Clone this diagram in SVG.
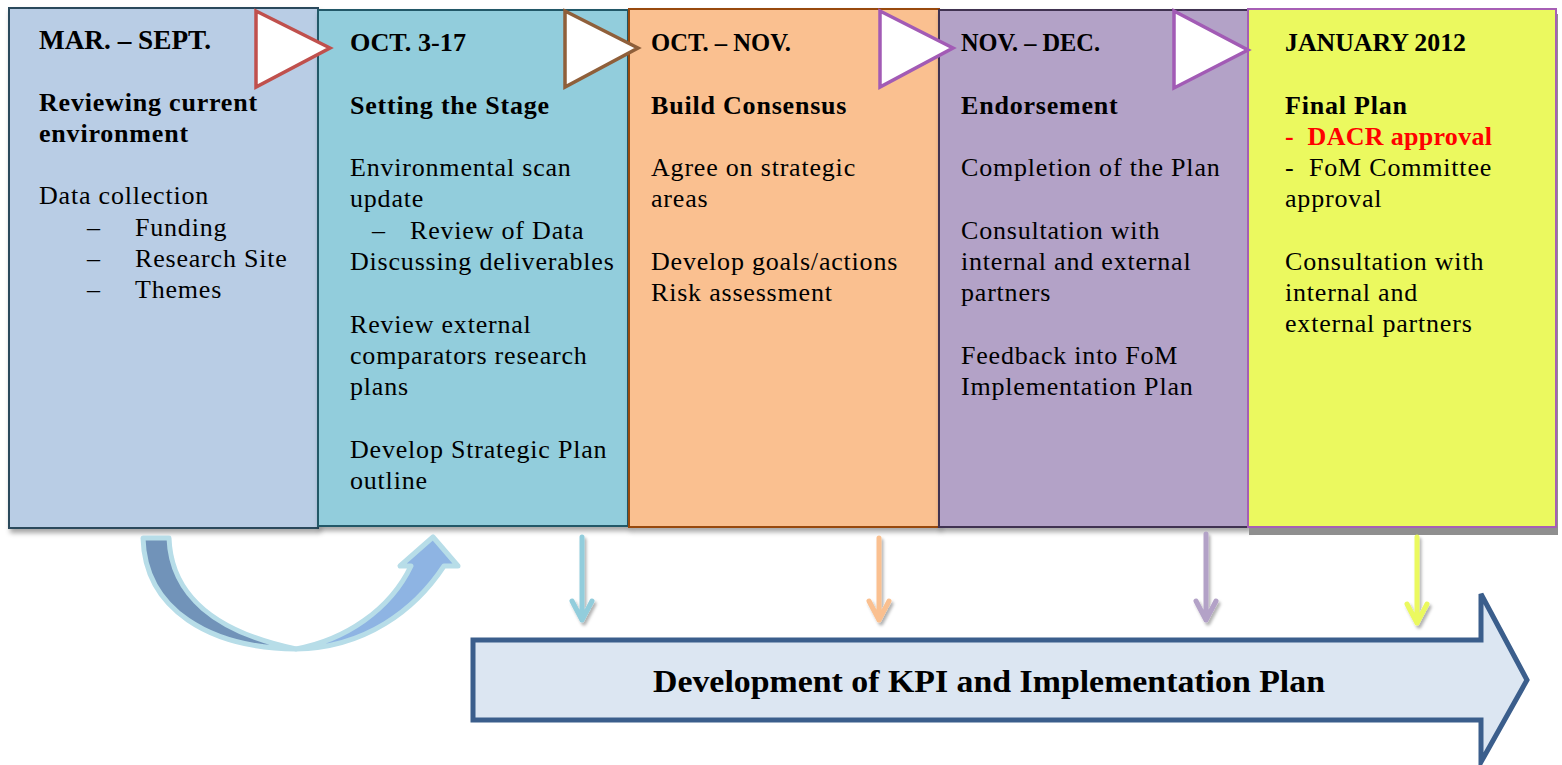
<svg xmlns="http://www.w3.org/2000/svg" width="1562" height="765" viewBox="0 0 1562 765">
<defs>
<filter id="sh" x="-10%" y="-10%" width="130%" height="130%">
<feDropShadow dx="2" dy="4" stdDeviation="2.5" flood-color="#000" flood-opacity="0.35"/>
</filter>
<filter id="ash" x="-50%" y="-10%" width="200%" height="130%">
<feDropShadow dx="2" dy="3" stdDeviation="1.5" flood-color="#000" flood-opacity="0.3"/>
</filter>
</defs>
<style>
text{font-family:"Liberation Serif","Times New Roman",serif;fill:#000;font-size:26px;letter-spacing:0.8px}
.b{font-weight:bold}
.h{font-weight:bold;font-size:26px;letter-spacing:0}
.tri{fill:#fff;stroke-width:3.5;stroke-linejoin:miter}
.dn{fill:none;stroke-width:5;stroke-linecap:round;stroke-linejoin:round}
</style>

<g id="box1">
<rect x="9" y="8" width="309" height="520" fill="#b9cde5" stroke="#2b4a5c" stroke-width="2" filter="url(#sh)"/>
<text x="39" y="49" class="h" style="font-size:27px" textLength="172" lengthAdjust="spacingAndGlyphs">MAR. – SEPT.</text>
<text x="39" y="111" class="b">Reviewing current</text>
<text x="39" y="142" class="b">environment</text>
<text x="39" y="204">Data collection</text>
<text x="87" y="236">–</text><text x="135" y="236">Funding</text>
<text x="87" y="267">–</text><text x="135" y="267">Research Site</text>
<text x="87" y="298">–</text><text x="135" y="298">Themes</text>
</g>

<g id="box2">
<rect x="318" y="10" width="310" height="516" fill="#92cddc" stroke="#215967" stroke-width="2" filter="url(#sh)"/>
<text x="350" y="51" class="h" textLength="116" lengthAdjust="spacingAndGlyphs">OCT. 3-17</text>
<text x="350" y="114" class="b">Setting the Stage</text>
<text x="350" y="176">Environmental scan</text>
<text x="350" y="207">update</text>
<text x="372" y="239">–</text><text x="410" y="239">Review of Data</text>
<text x="350" y="270">Discussing deliverables</text>
<text x="350" y="333">Review external</text>
<text x="350" y="364">comparators research</text>
<text x="350" y="395">plans</text>
<text x="350" y="458">Develop Strategic Plan</text>
<text x="350" y="489">outline</text>
</g>

<g id="box3">
<rect x="629" y="9" width="310" height="518" fill="#fac090" stroke="#984807" stroke-width="2" filter="url(#sh)"/>
<text x="651" y="51" class="h" textLength="140" lengthAdjust="spacingAndGlyphs">OCT. – NOV.</text>
<text x="651" y="114" class="b">Build Consensus</text>
<text x="651" y="176">Agree on strategic</text>
<text x="651" y="207">areas</text>
<text x="651" y="270">Develop goals/actions</text>
<text x="651" y="301">Risk assessment</text>
</g>

<g id="box4">
<rect x="939" y="10" width="310" height="517" fill="#b3a2c7" stroke="#3f3151" stroke-width="2" filter="url(#sh)"/>
<text x="961" y="51" class="h" textLength="139" lengthAdjust="spacingAndGlyphs">NOV. – DEC.</text>
<text x="961" y="114" class="b">Endorsement</text>
<text x="961" y="176">Completion of the Plan</text>
<text x="961" y="239">Consultation with</text>
<text x="961" y="270">internal and external</text>
<text x="961" y="301">partners</text>
<text x="961" y="364">Feedback into FoM</text>
<text x="961" y="395">Implementation Plan</text>
</g>

<g id="box5">
<rect x="1249" y="14" width="309" height="521" fill="#8f8f8f"/>
<rect x="1248" y="9" width="308" height="518" fill="#ebf95f" stroke="#a65fb5" stroke-width="2"/>
<text x="1285" y="51" class="h" textLength="181" lengthAdjust="spacingAndGlyphs">JANUARY 2012</text>
<text x="1285" y="114" class="b">Final Plan</text>
<text x="1285" y="145" class="b" style="fill:#ff0000;letter-spacing:0.3px" xml:space="preserve">-  DACR approval</text>
<text x="1285" y="176" xml:space="preserve">-  FoM Committee</text>
<text x="1285" y="207">approval</text>
<text x="1285" y="270">Consultation with</text>
<text x="1285" y="301">internal and</text>
<text x="1285" y="332">external partners</text>
</g>

<g id="kpi">
<path d="M473,640 L1481,640 L1481,594 L1527,680 L1481,762 L1481,720 L473,720 Z" fill="#dce6f2" stroke="#3b5e8c" stroke-width="5" stroke-linejoin="miter"/>
<text x="653" y="692" class="b" style="font-size:32px;letter-spacing:0" textLength="672" lengthAdjust="spacingAndGlyphs">Development of KPI and Implementation Plan</text>
</g>

<g id="connectors">
<polygon class="tri" points="256,11 330,48 256,87" stroke="#c0504d"/>
<polygon class="tri" points="565,11 638,48 565,87" stroke="#8f5f3a"/>
<polygon class="tri" points="880,11 953,48 880,87" stroke="#a25bb5"/>
<polygon class="tri" points="1174,11 1248,50 1174,88" stroke="#a25bb5"/>

<g filter="url(#ash)">
<path class="dn" d="M582,537 L582,620 M572,601 L582,620 L592,601" stroke="#92cddc"/>
<path class="dn" d="M879,538 L879,620 M869,601 L879,620 L889,601" stroke="#fac090"/>
<path class="dn" d="M1206,534 L1206,620 M1196,601 L1206,620 L1216,601" stroke="#b3a2c7"/>
<path class="dn" d="M1417,537 L1417,623 M1407,604 L1417,623 L1427,604" stroke="#ebf95f"/>
</g>

<g stroke="#b7dde8" stroke-width="5" stroke-linejoin="round">
<path d="M143,538 L169,538 C171,595 215,632 296,649 C210,648 145,610 143,538 Z" fill="#7193b9"/>
<path d="M296,649 C365,648 415,610 444,566 L458,566 L433,537 L400,566 L411,566 C390,610 345,640 296,649 Z" fill="#8eb4e3"/>
</g>
</g>
</svg>
